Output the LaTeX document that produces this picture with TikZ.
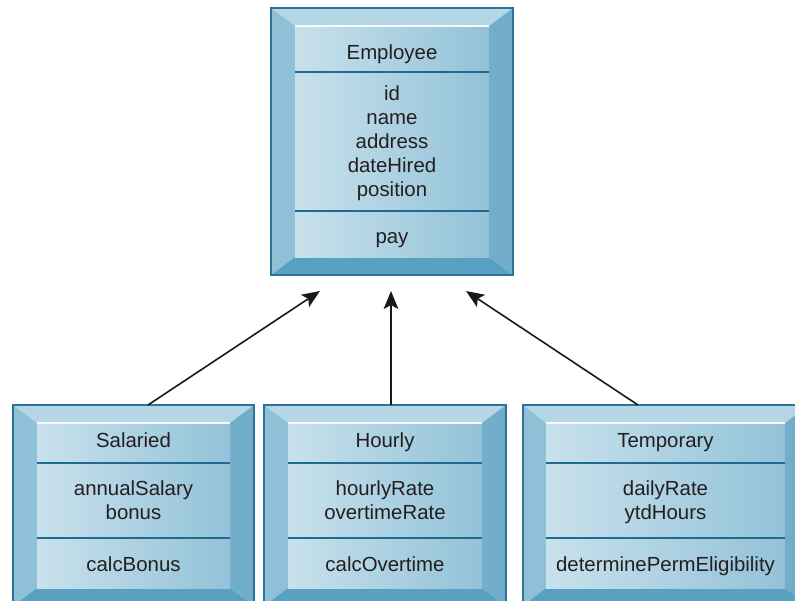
\documentclass[tikz,border=0pt]{standalone}
\usepackage{fontspec}
\setmainfont{Liberation Sans}
\usetikzlibrary{arrows.meta,fit}
\definecolor{topbev}{HTML}{B5D6E5}
\definecolor{leftbev}{HTML}{8EC0D7}
\definecolor{rightbev}{HTML}{72ADCA}
\definecolor{botbev}{HTML}{58A1C2}
\definecolor{faceL}{HTML}{C8E1EC}
\definecolor{faceR}{HTML}{93C2D8}
\definecolor{bordercol}{HTML}{2A7499}
\definecolor{divcol}{HTML}{1E6A92}
\definecolor{txtcol}{HTML}{231F20}
\tikzset{
  txt/.style={font=\fontsize{15.3}{18}\selectfont, text=txtcol, align=center,
    text height=11.25pt, text depth=3.75pt, inner sep=0pt},
  framebox/.style={draw=bordercol, line width=1.1pt, inner sep=0pt},
  divider/.style={draw=divcol, line width=0.9pt},
  hilite/.style={draw=white!85!faceL, line width=0.8pt},
  inherit/.style={draw=black!90, line width=1.2pt, -{Stealth[length=13.5pt,width=11pt,inset=3pt]}}
}
\newcommand\classframe[9]{%
  \fill[topbev] (#2,#3) -- (#4,#3) -- (#8,#7) -- (#6,#7) -- cycle;
  \fill[leftbev] (#2,#3) -- (#6,#7) -- (#6,#9) -- (#2,#5) -- cycle;
  \fill[rightbev] (#4,#3) -- (#4,#5) -- (#8,#9) -- (#8,#7) -- cycle;
  \fill[botbev] (#2,#5) -- (#6,#9) -- (#8,#9) -- (#4,#5) -- cycle;
  \shade[left color=faceL, right color=faceR] (#6,#7) rectangle (#8,#9);
  \draw[hilite] (#6,#7) -- (#8,#7);
  \node[framebox, fit={(#2,#3) (#4,#5)}] (#1) {};
}
\begin{document}
\begin{tikzpicture}[x=0.75pt,y=-0.75pt]
\useasboundingbox (0,0) rectangle (795,600);
\clip (0,0) rectangle (795,600);
% Employee
\classframe{emp}{271}{8}{513}{275}{295}{26}{489}{257}
\draw[divider] (295,72) -- (489,72);
\draw[divider] (295,211) -- (489,211);
\node[txt] (empName) at (392,54) {Employee};
\node[txt] (empAttr) at (392,191) {id\\name\\address\\dateHired\\position};
\node[txt] (empOps) at (392,238) {pay};
% Salaried
\classframe{sal}{13}{405}{254}{606}{37}{423}{230}{588}
\draw[divider] (37,463) -- (230,463);
\draw[divider] (37,538) -- (230,538);
\node[txt] (salName) at (133.5,442) {Salaried};
\node[txt] (salAttr) at (133.5,514) {annualSalary\\bonus};
\node[txt] (salOps) at (133.5,566) {calcBonus};
% Hourly
\classframe{hou}{264}{405}{506}{606}{288}{423}{482}{588}
\draw[divider] (288,463) -- (482,463);
\draw[divider] (288,538) -- (482,538);
\node[txt] (houName) at (385,442) {Hourly};
\node[txt] (houAttr) at (385,514) {hourlyRate\\overtimeRate};
\node[txt] (houOps) at (385,566) {calcOvertime};
% Temporary
\classframe{tmp}{523}{405}{809}{606}{546}{423}{785}{588}
\draw[divider] (546,463) -- (785,463);
\draw[divider] (546,538) -- (785,538);
\node[txt] (tmpName) at (665.5,442) {Temporary};
\node[txt] (tmpAttr) at (665.5,514) {dailyRate\\ytdHours};
\node[txt] (tmpOps) at (665.5,566) {determinePermEligibility};
% connectors
\coordinate (salTop) at (148,405);
\coordinate (houTop) at (391,405);
\coordinate (tmpTop) at (638,405);
\coordinate (empL) at (320,291);
\coordinate (empM) at (391,291);
\coordinate (empR) at (466,291);
\draw[inherit] (salTop) -- (empL);
\draw[inherit] (houTop) -- (empM);
\draw[inherit] (tmpTop) -- (empR);
\end{tikzpicture}
\end{document}
